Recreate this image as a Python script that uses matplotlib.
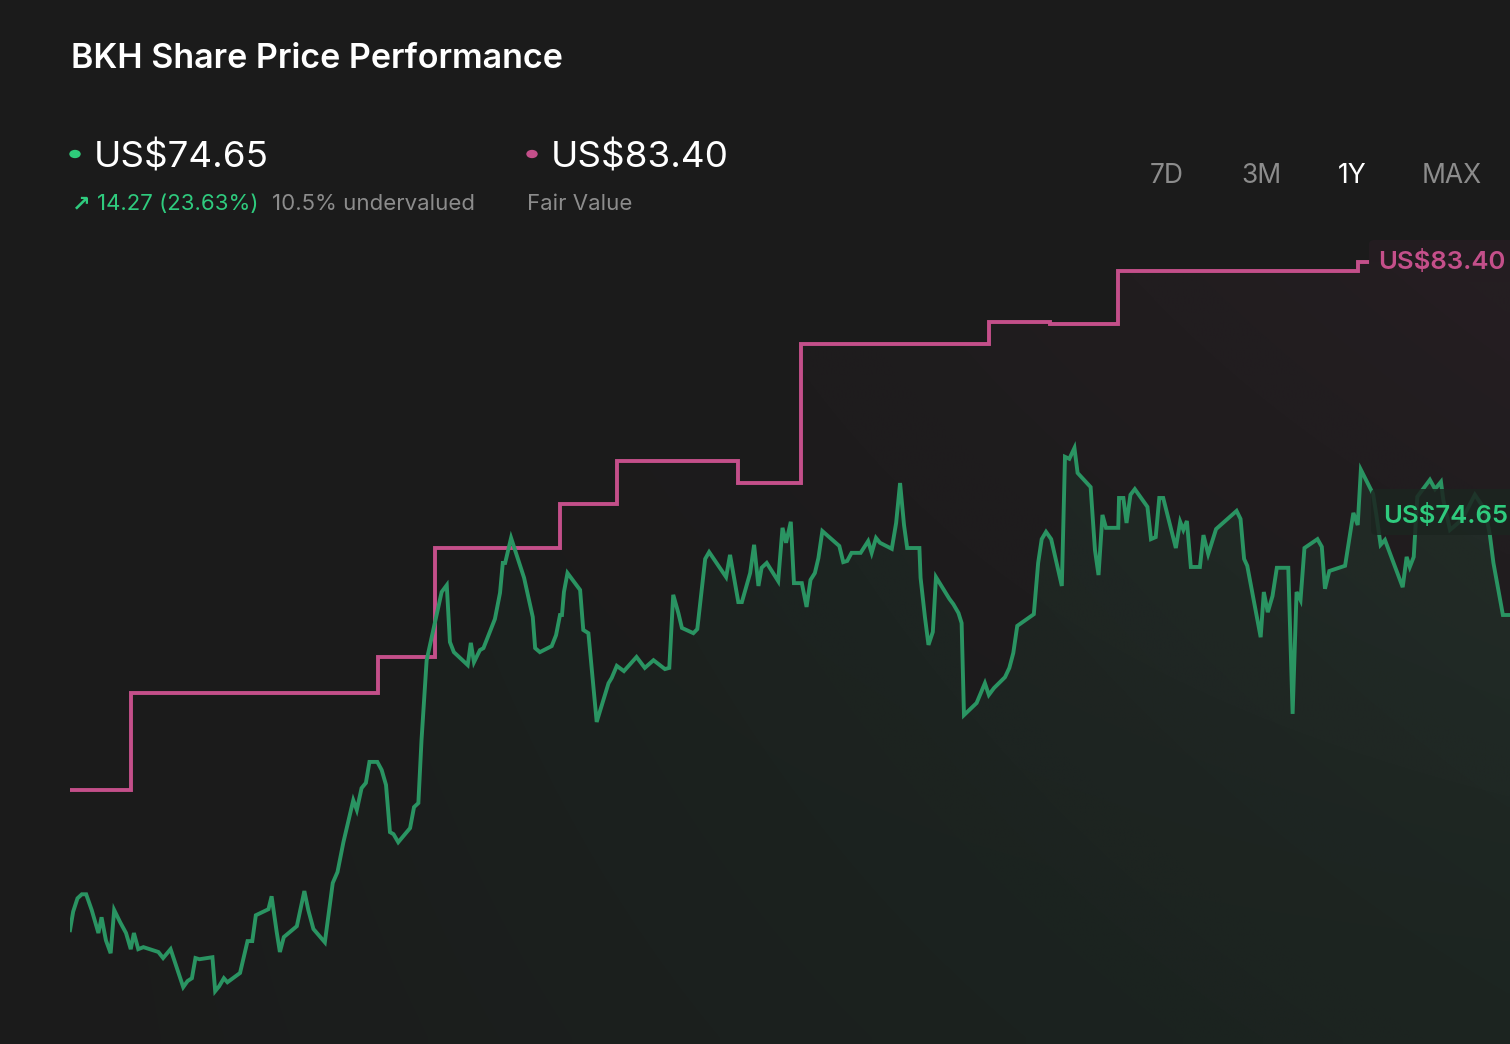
import numpy as np
import matplotlib
matplotlib.use("Agg")
import matplotlib.pyplot as plt
from matplotlib.patches import FancyBboxPatch, Circle

plt.rcParams['font.family'] = ['Inter', 'DejaVu Sans']

BG = "#1b1b1b"
GREEN = "#2a9462"
GREEN_TXT = "#2fcb7e"
PINK = "#c44f8a"
GREY = "#8c8c8c"

# share price, days since start of the 1Y window
price_days = [0.0, 0.8, 1.9, 3.0, 4.1, 5.5, 7.2, 8.0, 9.1, 10.3, 11.2, 12.7, 14.2, 15.4, 16.2,
              17.3, 18.6, 22.4, 23.6, 25.5, 28.7, 29.8, 30.9, 31.8, 32.8, 36.1, 36.8, 37.8, 39.0,
              39.9, 43.1, 45.0, 46.2, 47.1, 50.3, 51.1, 52.4, 53.2, 54.2, 57.5, 59.4, 60.4, 61.7,
              64.6, 66.6, 67.8, 69.3, 71.8, 72.7, 73.9, 75.0, 75.9, 77.9, 79.0, 80.1, 81.1, 82.0,
              83.2, 86.2, 87.2, 88.3, 89.1, 90.4, 92.9, 94.2, 95.5, 96.3, 97.3, 100.8, 101.6, 102.4,
              103.9, 104.8, 107.7, 109.0, 109.7, 110.3, 111.8, 115.1, 117.3, 117.9, 119.1, 122.1,
              123.2, 124.2, 124.7, 125.2, 126.1, 129.3, 130.1, 131.4, 133.5, 136.5, 137.3, 138.6,
              140.4, 143.6, 145.7, 147.9, 150.8, 151.9, 152.9, 154.2, 155.1, 158.0, 159.0, 161.0,
              162.0, 166.3, 167.3, 169.4, 170.3, 172.4, 173.4, 174.5, 175.3, 176.6, 179.5, 180.6,
              181.5, 182.7, 183.5, 185.5, 186.7, 187.7, 188.8, 189.7, 190.7, 195.0, 196.0, 197.0,
              198.1, 200.4, 202.3, 203.2, 204.3, 205.3, 208.3, 209.4, 210.4, 211.4, 212.2, 215.3,
              215.6, 216.7, 217.6, 218.7, 219.5, 222.9, 223.9, 225.2, 226.0, 226.6, 229.8, 231.9,
              232.9, 234.2, 237.0, 238.1, 239.1, 240.1, 244.3, 245.4, 246.3, 247.4, 248.7, 251.4,
              252.2, 253.3, 254.6, 255.4, 258.7, 259.8, 260.7, 261.7, 262.6, 265.7, 265.9, 267.0,
              267.8, 268.8, 269.9, 273.1, 274.0, 275.2, 276.1, 277.1, 280.3, 281.4, 282.2, 283.1,
              284.1, 286.4, 287.3, 288.5, 290.5, 295.7, 296.7, 297.6, 298.4, 301.8, 302.6, 303.6,
              304.8, 305.9, 308.8, 309.9, 310.9, 311.9, 312.9, 316.2, 317.3, 318.1, 319.2, 323.2,
              325.3, 326.4, 327.2, 330.3, 331.2, 332.2, 333.3, 337.8, 338.8, 339.6, 340.6, 341.5,
              344.7, 346.0, 347.5, 348.1, 349.8, 352.8, 356.1, 358.7, 359.9, 360.8, 363.2, 365.0]
price = [66.84, 67.30, 67.63, 67.73, 67.73, 67.34, 66.77, 67.16, 66.59, 66.27, 67.34, 67.04, 66.77,
         66.37, 66.77, 66.37, 66.42, 66.30, 66.15, 66.37, 65.43, 65.58, 65.65, 66.15, 66.12, 66.17,
         65.33, 65.45, 65.65, 65.55, 65.78, 66.57, 66.57, 67.21, 67.36, 67.68, 66.79, 66.30, 66.67,
         66.94, 67.81, 67.34, 66.87, 66.54, 68.01, 68.28, 69.02, 70.06, 69.82, 70.36, 70.49, 71.01,
         71.01, 70.81, 70.44, 69.27, 69.22, 69.02, 69.37, 69.89, 69.99, 71.55, 73.53, 74.65, 75.22,
         75.39, 73.98, 73.73, 73.41, 73.96, 73.48, 73.78, 73.83, 74.55, 75.20, 75.94, 75.94, 76.56,
         75.57, 74.60, 73.83, 73.73, 73.88, 74.15, 74.65, 74.65, 75.22, 75.69, 75.27, 74.28, 74.20,
         72.00, 72.96, 73.09, 73.39, 73.26, 73.61, 73.34, 73.53, 73.31, 73.34, 75.15, 74.70, 74.33,
         74.20, 74.30, 76.04, 76.21, 75.59, 76.14, 74.97, 74.97, 75.69, 76.39, 75.37, 75.82, 75.94,
         75.49, 76.81, 76.44, 76.96, 75.44, 75.44, 74.85, 75.52, 75.69, 76.06, 76.73, 76.36, 75.96,
         75.99, 76.19, 76.19, 76.48, 76.19, 76.56, 76.44, 76.29, 76.93, 77.92, 76.88, 76.31, 76.31,
         75.57, 74.60, 73.91, 74.23, 75.59, 75.05, 74.92, 74.70, 74.45, 72.17, 72.47, 72.96, 72.67,
         72.84, 73.11, 73.34, 73.71, 74.38, 74.67, 75.94, 76.53, 76.71, 76.53, 75.37, 78.57, 78.52,
         78.79, 78.17, 77.82, 76.26, 75.64, 77.13, 76.81, 76.81, 77.55, 77.55, 76.93, 77.63, 77.77,
         77.33, 76.53, 76.58, 77.55, 77.55, 76.31, 76.96, 76.76, 76.98, 75.84, 75.84, 76.63, 76.16,
         76.78, 77.23, 77.03, 76.04, 75.87, 74.10, 75.22, 74.72, 75.12, 75.82, 75.82, 72.20, 75.22,
         75.02, 76.31, 76.53, 76.34, 75.30, 75.74, 75.87, 77.18, 76.88, 78.25, 77.65, 77.08, 76.39,
         76.51, 75.34, 76.09, 75.84, 76.09, 77.58, 78.00, 77.77, 77.95, 77.50, 76.76, 77.01, 77.63,
         77.25, 76.63, 75.94, 74.65, 74.65]

# fair value estimate (step changes)
fv_days = [0.0, 15.5, 78.1, 92.5, 124.2, 138.6, 169.3, 185.3, 232.9, 248.4, 265.6, 326.5, 329.0]
fv_values = [70.31, 72.72, 73.61, 76.31, 77.40, 78.47, 77.92, 81.37, 81.91, 81.86, 83.18, 83.40, 83.40]

last_price = "US$74.65"
fair_value = "US$83.40"
change_text = "14.27 (23.63%)"
valuation_text = "10.5% undervalued"
periods = ["7D", "3M", "1Y", "MAX"]

W, H = 1510, 1044
fig = plt.figure(figsize=(W / 100, H / 100), dpi=100, facecolor=BG)
ax = fig.add_axes([70 / W, 0, 1 - 70 / W, (H - 230) / H])
ax.set_facecolor(BG)
ax.set_xlim(0, 365)
ymin, ymax = 64.02, 84.19
ax.set_ylim(ymin, ymax)
ax.axis("off")


def gradient_fill(x, y, rgb, a_left, a_right, v_low, power, z):
    poly = ax.fill_between(x, y, ymin, color="none", lw=0)
    nx, ny = 256, 64
    img = np.zeros((ny, nx, 4))
    img[..., :3] = matplotlib.colors.to_rgb(rgb)
    ah = a_left + (a_right - a_left) * np.linspace(0, 1, nx)[None, :] ** power
    av = np.linspace(v_low, 1.0, ny)[:, None]
    img[..., 3] = ah * av
    im = ax.imshow(img, extent=[0, 365, ymin, ymax], origin="lower",
                   aspect="auto", zorder=z, interpolation="bilinear")
    im.set_clip_path(poly.get_paths()[0], transform=ax.transData)


# fair value shading runs to the right edge, the line stops at the label
fv_x = np.repeat(fv_days[:-1] + [365.0], 2)[1:]
fv_y = np.repeat(fv_values, 2)[:-1]
gradient_fill(fv_x, fv_y, PINK, 0.0, 0.065, 0.0, 1.5, 1)
gradient_fill(price_days, price, GREEN, 0.01, 0.15, 0.55, 0.9, 2)

ax.plot(fv_days, fv_values, drawstyle="steps-post", color=PINK, lw=2.8, zorder=4,
        solid_joinstyle="miter")
ax.plot(price_days, price, color=GREEN, lw=2.8, zorder=5, solid_joinstyle="miter")


def fx(x):
    return x / W


def fy(y):
    return 1 - y / H


# title and header
fig.text(fx(71), fy(59), "BKH Share Price Performance", color="white", fontsize=24.5,
         fontweight="semibold", va="center", ha="left")
fig.patches.append(Circle((fx(75), fy(154)), 5 / W, transform=fig.transFigure,
                          color="#2ecc7a"))
fig.text(fx(94), fy(158), last_price, color="white", fontsize=26.5, va="center", ha="left")
fig.text(fx(72), fy(204), "\u2197", color=GREEN_TXT, fontsize=16, va="center", ha="left",
         fontweight="bold", family=["DejaVu Sans"])
fig.text(fx(97), fy(204), change_text, color=GREEN_TXT, fontsize=16, va="center", ha="left")
fig.text(fx(272), fy(204), valuation_text, color=GREY, fontsize=16, va="center", ha="left")

fig.patches.append(Circle((fx(532), fy(154)), 5 / W, transform=fig.transFigure,
                          color=PINK))
fig.text(fx(551), fy(158), fair_value, color="white", fontsize=26.5, va="center", ha="left")
fig.text(fx(527), fy(204), "Fair Value", color=GREY, fontsize=16, va="center", ha="left")

for label, xc in zip(periods, [1167, 1261, 1352, 1452]):
    fig.text(fx(xc), fy(176), label, color="white" if label == "1Y" else GREY,
             fontsize=19, va="center", ha="center")

# end labels
fig.patches.append(FancyBboxPatch((fx(1369), fy(282)), fx(160), 42 / H,
                                  boxstyle="round,pad=0,rounding_size=0.004",
                                  transform=fig.transFigure, facecolor="#241d21",
                                  edgecolor="none", alpha=0.95, zorder=6))
fig.text(fx(1378), fy(262), fair_value, color=PINK, fontsize=18.5, fontweight="semibold",
         va="center", ha="left", zorder=7)
fig.patches.append(FancyBboxPatch((fx(1371), fy(535)), fx(160), 46 / H,
                                  boxstyle="round,pad=0,rounding_size=0.004",
                                  transform=fig.transFigure, facecolor="#1c2520",
                                  edgecolor="none", alpha=0.85, zorder=6))
fig.text(fx(1383), fy(516), last_price, color=GREEN_TXT, fontsize=18.5, fontweight="semibold",
         va="center", ha="left", zorder=7)

fig.savefig("out.png", dpi=100, facecolor=BG)
